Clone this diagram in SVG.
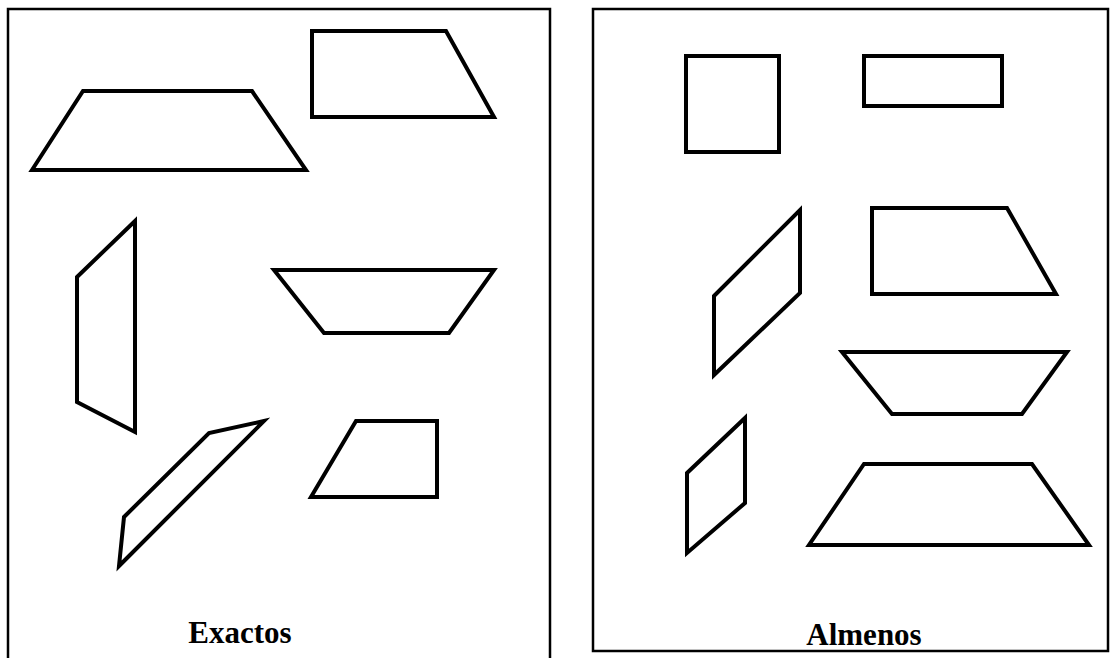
<svg xmlns="http://www.w3.org/2000/svg" width="1113" height="658" viewBox="0 0 1113 658">
<style>
.frame{fill:none;stroke:#000;stroke-width:2.5}
.s{fill:none;stroke:#000;stroke-width:4;stroke-linejoin:miter}
.lbl{font-family:"Liberation Serif","DejaVu Serif",serif;font-weight:bold;font-size:31px;fill:#000;text-anchor:middle}
</style>
<rect width="1113" height="658" fill="#fff"/>
<g id="panel-exactos">
<path class="frame" d="M8,662 L8,9 L550,9 L550,662"/>
<g id="e1"><polygon class="s" points="32,170 83,91 252,91 306,170"/></g>
<g id="e2"><polygon class="s" points="312,31 446,31 494,117 312,117"/></g>
<g id="e3"><polygon class="s" points="77,277 135,221 135,432 77,402"/></g>
<g id="e4"><polygon class="s" points="274,270 494,270 449,333 324,333"/></g>
<g id="e5"><polygon class="s" points="264,421 209,433 124,517 119,566"/></g>
<g id="e6"><polygon class="s" points="356,421 437,421 437,497 311,497"/></g>
<text class="lbl" x="240" y="643">Exactos</text>
</g>
<g id="panel-almenos">
<rect class="frame" x="593" y="9" width="515" height="642"/>
<g id="a1"><rect class="s" x="686" y="56" width="93" height="96"/></g>
<g id="a2"><rect class="s" x="864" y="56" width="138" height="50"/></g>
<g id="a3"><polygon class="s" points="714,296 800,210 800,293 714,375"/></g>
<g id="a4"><polygon class="s" points="872,208 1007,208 1056,294 872,294"/></g>
<g id="a5"><polygon class="s" points="842,352 1067,352 1022,414 892,414"/></g>
<g id="a6"><polygon class="s" points="687,473 745,418 745,503 687,553"/></g>
<g id="a7"><polygon class="s" points="864,464 1032,464 1089,545 809,545"/></g>
<text class="lbl" x="864" y="645">Almenos</text>
</g>
</svg>
